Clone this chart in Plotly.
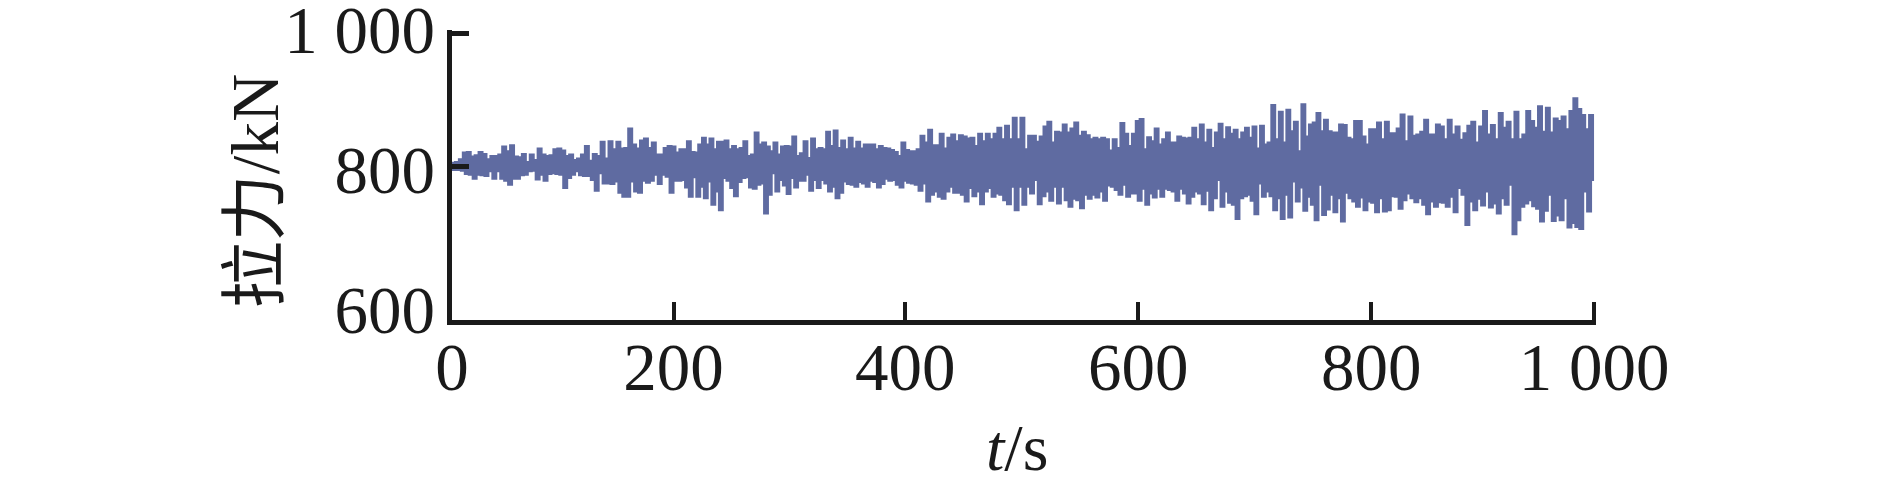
import numpy as np
import plotly.graph_objects as go

segment_edges = [0, 200, 401, 603, 804, 1000]

force_high_1 = [805,806,810,820,821,814,816,821,818,810,815,815,817,829,822,831,814,813,818,806,817,809,826,817,815,816,825,826,823,815,817,809,811,817,830,808,818,815,836,811,837,825,836,826,827,856,832,826,838,841,827,835,817,817,827,830,829,820]
force_low_1 = [797,797,796,791,790,784,790,789,788,795,784,795,784,781,775,784,784,789,790,795,796,783,790,781,791,792,791,790,770,785,790,795,789,788,788,782,766,792,777,777,776,780,763,757,757,780,765,763,781,778,781,790,776,790,787,763,781,781]

force_high_2 = [825,825,837,821,820,832,842,832,841,825,836,836,838,825,830,825,827,837,815,817,850,832,835,829,822,835,817,829,830,829,844,815,819,837,812,841,825,827,825,851,830,853,827,838,825,842,826,836,826,832,832,832,825,830,827,826,824,821,815,835,824]
force_low_2 = [782,771,757,786,757,772,755,780,745,765,737,785,781,770,758,779,785,786,771,769,775,777,732,760,792,765,782,774,761,785,771,781,781,790,766,782,770,782,777,765,772,755,763,780,776,775,772,779,777,772,781,779,771,776,784,781,782,775,771,781,778]

force_high_3 = [822,822,825,845,835,854,831,831,848,826,842,847,837,846,844,841,842,830,848,837,848,840,848,857,840,860,840,872,840,872,825,845,845,836,844,859,866,835,851,850,862,850,856,865,845,851,846,840,842,840,842,840,823,840,827,864,848,830,848,867]
force_low_3 = [777,775,766,777,750,760,765,757,754,765,772,763,763,760,750,770,758,765,746,765,770,757,762,760,752,746,772,737,772,745,772,762,782,746,758,765,751,772,747,772,752,742,754,752,740,760,754,760,756,765,751,774,772,767,760,775,757,762,762,751]

force_high_4 = [870,825,843,837,856,832,840,850,835,835,844,842,841,842,857,840,862,835,854,827,850,863,840,858,848,854,840,850,857,842,859,826,860,832,835,891,840,881,835,884,852,866,822,892,844,862,865,879,852,869,852,850,850,862,861,842,840,867,867,844,832]
force_low_4 = [769,745,762,756,769,757,769,767,765,751,769,762,747,757,765,762,746,766,737,755,782,742,765,748,745,724,755,758,760,751,731,777,757,765,758,737,755,724,760,726,780,750,771,736,757,745,722,775,730,738,760,734,755,720,763,755,750,742,756,737,750]

force_high_5 = [855,855,865,840,866,849,849,856,877,837,874,845,847,851,869,847,847,862,859,840,869,847,859,839,849,860,866,835,859,882,847,861,840,879,857,866,840,881,840,847,882,867,857,889,851,887,850,871,867,874,855,882,901,885,876,855,876]
force_low_5 = [748,734,755,735,737,758,757,739,752,762,755,749,755,745,731,750,742,749,748,742,757,734,770,760,715,750,737,754,744,765,741,747,732,755,745,775,701,722,742,747,752,743,739,720,736,760,721,729,722,755,711,718,712,709,765,735,779]

highs = [force_high_1, force_high_2, force_high_3, force_high_4, force_high_5]
lows = [force_low_1, force_low_2, force_low_3, force_low_4, force_low_5]

# the drawn ticks of the source figure are not evenly spaced, nor do its labels line up with them
x_tick_pos = [0, 194, 397, 601, 805, 1000]
x_tick_text = ["0", "200", "400", "600", "800", "1 000"]
y_tick_pos = [800, 1000]
y_label_pos = [600, 800, 1000]
y_label_text = ["600", "800", "1 000"]

FONT = "Liberation Serif, Noto Sans CJK SC"
INK = "#1a1a1a"
TRACE = "#5f6ba1"

# alternate high and low swing within each stretch
time_s, force_kn = [], []
for i in range(len(highs)):
    n = 2 * len(highs[i])
    time_s += list(np.linspace(segment_edges[i], segment_edges[i + 1], n, endpoint=False))
    for hi, lo in zip(highs[i], lows[i]):
        force_kn += [hi, lo]

fig = go.Figure()
fig.add_trace(go.Scatter(
    x=time_s, y=force_kn,
    mode='lines',
    line=dict(color=TRACE, width=4, shape='hv'),
    showlegend=False
))
# empty trace so the label-only axis gets drawn
fig.add_trace(go.Scatter(x=[None], y=[None], yaxis='y2', showlegend=False, hoverinfo='skip'))

fig.update_layout(
    width=1890, height=491,
    autosize=False,
    margin=dict(l=452, r=294, t=20, b=171),
    paper_bgcolor='white',
    plot_bgcolor='rgba(0,0,0,0)',
    font=dict(family=FONT, size=67, color=INK),
    showlegend=False,
    xaxis=dict(
        # a little past 1000, plotly drops inside ticks sitting right on the range end
        range=[0, 1001.75],
        tickmode='array', tickvals=x_tick_pos, ticktext=x_tick_text,
        ticks='inside', ticklen=18, tickwidth=4, tickcolor=INK,
        ticklabelstandoff=-15,
        showline=True, linewidth=5, linecolor=INK,
        showgrid=False, zeroline=False, automargin=False,
    ),
    yaxis=dict(
        domain=[0, 0.9667],
        range=[571.6, 1004.5],
        tickmode='array', tickvals=y_tick_pos, ticktext=['', ''],
        ticks='inside', ticklen=17, tickwidth=5, tickcolor=INK,
        showline=True, linewidth=5, linecolor=INK,
        showgrid=False, zeroline=False, automargin=False,
    ),
    # labels sit on their own evenly spaced scale, as in the source figure
    yaxis2=dict(
        domain=[0, 1], anchor='x',
        range=[585.5, 1014.2],
        tickmode='array', tickvals=y_label_pos, ticktext=y_label_text,
        ticks='', ticklabelstandoff=16, ticklabeloverflow='allow',
        showline=False, showgrid=False, zeroline=False, automargin=False,
    ),
    annotations=[
        dict(text='拉力/kN', textangle=-90, font=dict(size=67),
             xref='paper', yref='paper', x=-0.172, y=0.43,
             xanchor='center', yanchor='middle', showarrow=False),
        dict(text='<i>t</i>/s', font=dict(size=66),
             xref='paper', yref='paper', x=0.4935, y=-0.425,
             xanchor='center', yanchor='middle', showarrow=False),
    ],
)

fig.write_html("out.html", config=dict(displayModeBar=False),
               post_script="document.body.style.margin='0';")
